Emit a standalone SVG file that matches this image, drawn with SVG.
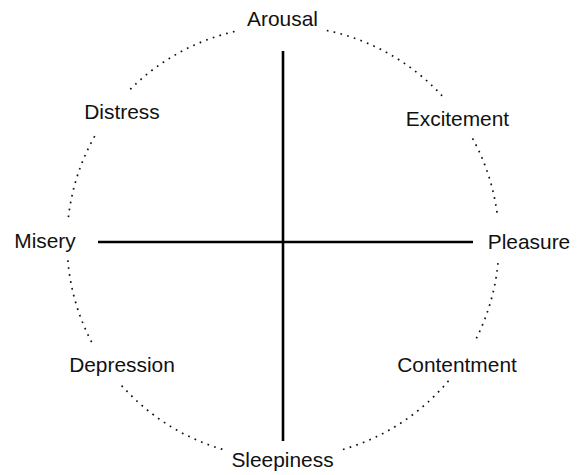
<svg xmlns="http://www.w3.org/2000/svg" width="581" height="475" viewBox="0 0 581 475">
<style>
.lbl{font-family:"Liberation Sans",Arial,Helvetica,sans-serif;font-size:20.9px;fill:#111;text-anchor:middle}
.arc{fill:none;stroke:#111;stroke-width:1.7;stroke-dasharray:1.7 5.3}
.axis{stroke:#000;stroke-width:2.6;fill:none}
</style>
<rect width="581" height="475" fill="#fff"/>
<g id="connectors">
<path class="arc" d="M130.3 89.3 A216 216 0 0 1 237.4 30.9"/>
<path class="arc" d="M68.4 217.2 A216 216 0 0 1 95.3 135.1"/>
<path class="arc" d="M91.6 342.1 A216 216 0 0 1 67.8 260.1"/>
<path class="arc" d="M222.4 449.3 A216 216 0 0 1 121.5 385.4"/>
<path class="arc" d="M448.5 380.8 A216 216 0 0 1 341.8 449.8"/>
<path class="arc" d="M498.0 263.1 A216 216 0 0 1 473.9 343.1"/>
<path class="arc" d="M472.5 138.3 A216 216 0 0 1 497.7 217.9"/>
<path class="arc" d="M326.8 30.5 A216 216 0 0 1 442.0 95.8"/>
<line class="axis" x1="98" y1="242" x2="473" y2="242"/>
<line class="axis" x1="283" y1="51" x2="283" y2="441"/>
</g>
<g id="arousal"><text class="lbl" x="282.5" y="26">Arousal</text></g>
<g id="excitement"><text class="lbl" x="457.5" y="126">Excitement</text></g>
<g id="pleasure"><text class="lbl" x="529" y="248.5">Pleasure</text></g>
<g id="contentment"><text class="lbl" x="457" y="372">Contentment</text></g>
<g id="sleepiness"><text class="lbl" x="282.5" y="467">Sleepiness</text></g>
<g id="depression"><text class="lbl" x="122" y="372">Depression</text></g>
<g id="misery"><text class="lbl" x="45" y="248">Misery</text></g>
<g id="distress"><text class="lbl" x="122" y="119">Distress</text></g>
</svg>
